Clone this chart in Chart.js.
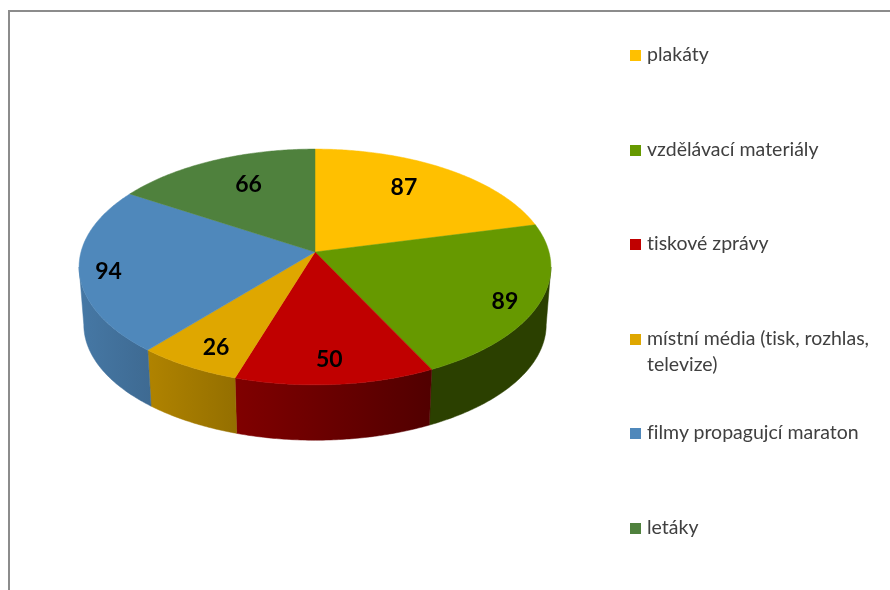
<!DOCTYPE html>
<html lang="cs">
<head>
<meta charset="utf-8">
<title>Propagace maratonu</title>
<script src="https://cdn.jsdelivr.net/npm/chart.js@4"></script>
<style>
    html, body { margin: 0; padding: 0; background: #fff; overflow: hidden; }
    #wrap { position: relative; width: 890px; height: 590px; }
    #frame {
        position: absolute; left: 8px; top: 10px; right: 0; bottom: 0;
        border-left: 2px solid #8c8c8c; border-top: 2px solid #8c8c8c;
    }
    #pieChart { position: absolute; left: 0; top: 0; }
    #legend {
        position: absolute; left: 630px; top: 41px; width: 245px;
        margin: 0; padding: 0; list-style: none;
        font: 19.5px/26px Lato, sans-serif; color: #404040;
        font-variant-ligatures: none;
    }
    #legend li { display: flex; height: 94.5px; }
    #legend i { flex: none; width: 11px; height: 11px; margin: 9px 6px 0 0; }
</style>
</head>
<body>
<div id="wrap">
    <div id="frame"></div>
    <canvas id="pieChart" width="890" height="590"></canvas>
    <ul id="legend"></ul>
</div>
<script>
const categories = [
    "plakáty",
    "vzdělávací materiály",
    "tiskové zprávy",
    "místní média (tisk, rozhlas, televize)",
    "filmy propagujcí maraton",
    "letáky"
];
const counts = [87, 89, 50, 26, 94, 66];
const sliceColors = ["#ffc000", "#669900", "#c00000", "#dfa700", "#4f88bb", "#4f813d"];
const labelRadius = [0.72, 0.87, 0.83, 0.84, 0.88, 0.7]; // how far out each number sits
const labelTurn = [-0.06, 0.05, 0.01, -0.03, -0.04, 0.05]; // radians off the slice middle

// tilted disc seen in perspective
const squash = 0.4957;
const perspective = 0.127;
const bottomScale = 0.98;
const bottomDrop = 58; // px from the top face to the bottom face

function project(arc, angle, scale, drop, radiusFactor) {
    const u = Math.cos(angle) * radiusFactor;
    const v = Math.sin(angle) * radiusFactor;
    const d = 1 - perspective * v;
    return {
        x: arc.x + arc.outerRadius * scale * u / d,
        y: arc.y + drop + arc.outerRadius * squash * scale * v / d
    };
}

function rimPoints(arc, from, to, scale, drop) {
    const steps = Math.max(2, Math.ceil((to - from) / 0.01));
    const pts = [];
    for (let i = 0; i <= steps; i++) {
        pts.push(project(arc, from + (to - from) * i / steps, scale, drop, 1));
    }
    return pts;
}

function shade(hex, factor) {
    const n = parseInt(hex.slice(1), 16);
    const c = [n >> 16, (n >> 8) & 255, n & 255].map(v => Math.round(v * factor));
    return "rgb(" + c.join(",") + ")";
}

function drawWall(ctx, arc, color) {
    // only the front part of the rim is visible
    const limit = Math.asin(perspective);
    const from = Math.max(arc.startAngle, limit);
    const to = Math.min(arc.endAngle, Math.PI - limit);
    if (to <= from) return;

    const top = rimPoints(arc, from, to, 1, 0);
    const bottom = rimPoints(arc, from, to, bottomScale, bottomDrop).reverse();
    const xs = top.concat(bottom).map(p => p.x);
    const x0 = Math.min(...xs);
    const x1 = Math.max(...xs);
    const left = arc.x - arc.outerRadius;
    const light = x => Math.max(0.42, 0.88 - 0.65 * (x - left) / (2 * arc.outerRadius));

    const grad = ctx.createLinearGradient(x0, 0, x1, 0);
    grad.addColorStop(0, shade(color, light(x0)));
    grad.addColorStop(1, shade(color, light(x1)));

    ctx.beginPath();
    top.concat(bottom).forEach((p, i) => i ? ctx.lineTo(p.x, p.y) : ctx.moveTo(p.x, p.y));
    ctx.closePath();
    ctx.fillStyle = grad;
    ctx.strokeStyle = grad;
    ctx.lineWidth = 0.5;
    ctx.fill();
    ctx.stroke();
}

function drawFace(ctx, arc, color) {
    ctx.beginPath();
    ctx.moveTo(arc.x, arc.y);
    rimPoints(arc, arc.startAngle, arc.endAngle, 1, 0).forEach(p => ctx.lineTo(p.x, p.y));
    ctx.closePath();
    ctx.fillStyle = color;
    ctx.strokeStyle = color;
    ctx.lineWidth = 0.5;
    ctx.fill();
    ctx.stroke();
}

const pie3d = {
    id: "pie3d",
    beforeDatasetDraw(chart, args) {
        const ctx = chart.ctx;
        const arcs = args.meta.data;
        ctx.save();
        arcs.forEach((arc, i) => drawWall(ctx, arc, sliceColors[i]));
        arcs.forEach((arc, i) => drawFace(ctx, arc, sliceColors[i]));

        ctx.fillStyle = "#000";
        ctx.font = "bold 23px Lato, sans-serif";
        ctx.textAlign = "center";
        ctx.textBaseline = "middle";
        arcs.forEach((arc, i) => {
            const mid = (arc.startAngle + arc.endAngle) / 2 + labelTurn[i];
            const p = project(arc, mid, 1, 0, labelRadius[i]);
            ctx.fillText(counts[i], p.x, p.y);
        });
        ctx.restore();
        return false; // the flat arcs are replaced by the tilted ones
    }
};

const chart = new Chart(document.getElementById("pieChart"), {
    type: "pie",
    data: {
        labels: categories,
        datasets: [{ data: counts, backgroundColor: sliceColors, borderWidth: 0 }]
    },
    options: {
        responsive: false,
        animation: false,
        events: [],
        layout: { padding: { left: 81, right: 341, top: 18, bottom: 104 } },
        plugins: { legend: { display: false }, tooltip: { enabled: false } }
    },
    plugins: [pie3d]
});

const legend = document.getElementById("legend");
chart.data.labels.forEach((label, i) => {
    const li = document.createElement("li");
    const box = document.createElement("i");
    box.style.background = sliceColors[i];
    const text = document.createElement("span");
    text.textContent = label;
    li.append(box, text);
    legend.append(li);
});
</script>
</body>
</html>
